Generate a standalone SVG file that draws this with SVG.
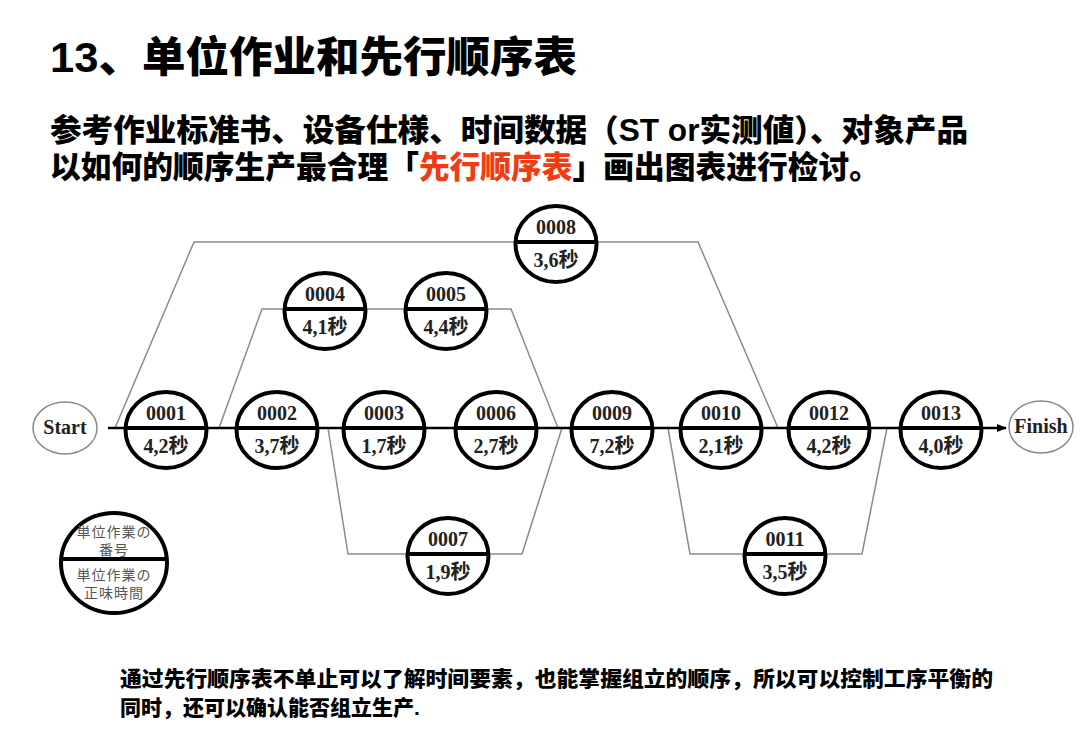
<svg xmlns="http://www.w3.org/2000/svg" width="1080" height="746" viewBox="0 0 1080 746">
<defs>
<style>
.hd{font-family:"Liberation Sans","Noto Sans CJK SC",sans-serif;font-weight:900;fill:#000}
.nt{font-family:"Liberation Serif","Noto Sans CJK SC",serif;font-weight:bold;font-size:20px;fill:#222;text-anchor:middle}
.circ{fill:#fff;stroke:#000;stroke-width:4}
.div{stroke:#000;stroke-width:4}
.con{fill:none;stroke:#8a8a8a;stroke-width:1.5}
.term{fill:#fff;stroke:#8a8a8a;stroke-width:1.5}
.lg{font-family:"Noto Sans CJK JP",sans-serif;font-size:14px;fill:#555;text-anchor:middle;letter-spacing:1px}
</style>
<marker id="arr" markerWidth="10" markerHeight="8" refX="9" refY="4" orient="auto" markerUnits="userSpaceOnUse">
<path d="M0,0 L10,4 L0,8 Z" fill="#000"/>
</marker>
<g id="tpl">
<ellipse class="circ" cx="0" cy="2" rx="40.5" ry="38"/>
<line class="div" x1="-40" y1="0" x2="40" y2="0"/>
</g>
</defs>
<rect width="1080" height="746" fill="#fff"/>

<text class="hd" x="50" y="72" font-size="42" textLength="527" lengthAdjust="spacingAndGlyphs">13、单位作业和先行顺序表</text>
<text class="hd" x="50" y="141" font-size="31" textLength="918" lengthAdjust="spacingAndGlyphs">参考作业标准书、设备仕様、时间数据（ST or实测値）、对象产品</text>
<text class="hd" x="50" y="178" font-size="31" textLength="830" lengthAdjust="spacingAndGlyphs">以如何的顺序生产最合理「<tspan fill="#f03c14">先行顺序表</tspan>」画出图表进行检讨。</text>

<g id="connectors">
<path class="con" d="M115,428 L194,242 L698,242 L778,428"/>
<path class="con" d="M219,428 L262,309 L511,309 L558,428"/>
<path class="con" d="M328,428 L348,554 L522,554 L562,428"/>
<path class="con" d="M668,428 L690,554 L862,554 L887,428"/>
<line x1="108" y1="428" x2="1006" y2="428" stroke="#000" stroke-width="2.5" marker-end="url(#arr)"/>
</g>

<g id="start">
<ellipse class="term" cx="65" cy="428" rx="32" ry="26"/>
<text class="nt" x="65" y="434" font-size="19">Start</text>
</g>
<g id="finish">
<ellipse class="term" cx="1041" cy="427" rx="32" ry="26"/>
<text class="nt" x="1041" y="433" font-size="19">Finish</text>
</g>

<g id="n0001" transform="translate(166,428)"><use href="#tpl"/><text class="nt" y="-8">0001</text><text class="nt" y="25">4,2秒</text></g>
<g id="n0002" transform="translate(277,428)"><use href="#tpl"/><text class="nt" y="-8">0002</text><text class="nt" y="25">3,7秒</text></g>
<g id="n0003" transform="translate(384,428)"><use href="#tpl"/><text class="nt" y="-8">0003</text><text class="nt" y="25">1,7秒</text></g>
<g id="n0006" transform="translate(496,428)"><use href="#tpl"/><text class="nt" y="-8">0006</text><text class="nt" y="25">2,7秒</text></g>
<g id="n0009" transform="translate(612,428)"><use href="#tpl"/><text class="nt" y="-8">0009</text><text class="nt" y="25">7,2秒</text></g>
<g id="n0010" transform="translate(721,428)"><use href="#tpl"/><text class="nt" y="-8">0010</text><text class="nt" y="25">2,1秒</text></g>
<g id="n0012" transform="translate(829,428)"><use href="#tpl"/><text class="nt" y="-8">0012</text><text class="nt" y="25">4,2秒</text></g>
<g id="n0013" transform="translate(941,428)"><use href="#tpl"/><text class="nt" y="-8">0013</text><text class="nt" y="25">4,0秒</text></g>
<g id="n0004" transform="translate(325,309)"><use href="#tpl"/><text class="nt" y="-8">0004</text><text class="nt" y="25">4,1秒</text></g>
<g id="n0005" transform="translate(446,309)"><use href="#tpl"/><text class="nt" y="-8">0005</text><text class="nt" y="25">4,4秒</text></g>
<g id="n0008" transform="translate(556,242)"><use href="#tpl"/><text class="nt" y="-8">0008</text><text class="nt" y="25">3,6秒</text></g>
<g id="n0007" transform="translate(448,554)"><use href="#tpl"/><text class="nt" y="-8">0007</text><text class="nt" y="25">1,9秒</text></g>
<g id="n0011" transform="translate(785,554)"><use href="#tpl"/><text class="nt" y="-8">0011</text><text class="nt" y="25">3,5秒</text></g>

<g id="legend">
<ellipse class="circ" cx="114" cy="563" rx="53" ry="50"/>
<line class="div" x1="62" y1="559" x2="166" y2="559"/>
<text class="lg" x="114" y="537">単位作業の</text>
<text class="lg" x="114" y="555">番号</text>
<text class="lg" x="114" y="580">単位作業の</text>
<text class="lg" x="114" y="598">正味時間</text>
</g>

<text class="hd" x="120" y="686" font-size="21" textLength="873" lengthAdjust="spacingAndGlyphs">通过先行顺序表不单止可以了解时间要素，也能掌握组立的顺序，所以可以控制工序平衡的</text>
<text class="hd" x="120" y="715" font-size="21">同时，还可以确认能否组立生产.</text>
</svg>
